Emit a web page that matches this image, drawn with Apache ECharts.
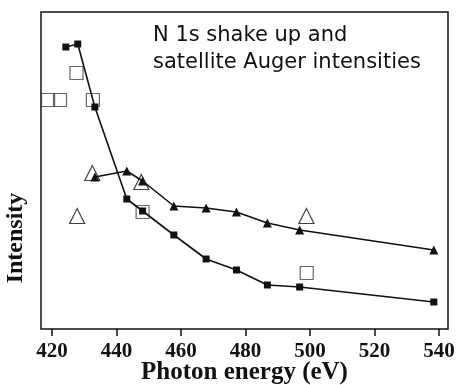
<!DOCTYPE html>
<html>
<head>
<meta charset="utf-8">
<script src="https://cdn.jsdelivr.net/npm/echarts@6/dist/echarts.min.js"></script>
<style>
  html, body { margin: 0; padding: 0; background: #fff; }
  #chart { width: 459px; height: 385px; }
</style>
</head>
<body>
<div id="chart"></div>
<script>
// photon energy (eV) / intensity (arb. units)
var sqX = [424.3, 428.0, 433.3, 443.2, 448.1, 457.8, 467.8, 477.2, 486.8, 496.8, 538.4];
var sqY = [282, 285, 222, 130, 118, 94, 70, 59, 44, 42, 27];
var triX = [433.3, 443.2, 448.1, 457.8, 467.8, 477.2, 486.8, 496.8, 538.4];
var triY = [152, 158, 148, 123, 121, 117, 106, 99, 79];
// open symbols (not joined)
var openSqX = [418.8, 422.5, 427.6, 432.7, 448.1, 499.0];
var openSqY = [229, 229, 256, 229, 117, 56];
var openTriX = [427.8, 432.5, 447.7, 498.9];
var openTriY = [113, 156, 147, 113];
var xTicks = [420, 440, 460, 480, 500, 520, 540];

function pairs(xs, ys){
    var out = [];
    for(var i=0; i<xs.length; i++){
        out.push([xs[i], ys[i]]);
    }
    return out;
}

var serif = '"Liberation Serif", "DejaVu Serif", serif';
var sans = '21px "DejaVu Sans", sans-serif';
var chart = echarts.init(document.getElementById('chart'));
var option = {
    animation: false,
    backgroundColor: '#fff',
    grid: {
        left: 41, right: 11, top: 12, bottom: 56,
        outerBoundsMode: 'none',
        containLabel: false,
        show: true, borderColor: '#111', borderWidth: 1.5, backgroundColor: 'transparent'
    },
    xAxis: {
        type: 'value',
        min: 416.6,
        max: 542.8,
        splitLine: {show: false},
        axisLine: {show: false},
        axisTick: {show: true, inside: false, length: 7, customValues: xTicks,
                   lineStyle: {color: '#111', width: 1.5}},
        axisLabel: {customValues: xTicks, margin: 12, color: '#111',
                    fontFamily: serif, fontWeight: 'bold', fontSize: 21},
        name: 'Photon energy (eV)',
        nameLocation: 'middle',
        nameGap: 31,
        nameMoveOverlap: false,
        nameTextStyle: {color: '#111', fontFamily: serif, fontWeight: 'bold', fontSize: 25}
    },
    yAxis: {
        type: 'value',
        min: 0,
        max: 317,
        show: false
    },
    graphic: [{
        type: 'text',
        left: 153, top: 25,
        style: {text: 'N 1s shake up and', fill: '#111', font: sans}
    },{
        type: 'text',
        left: 153, top: 52,
        style: {text: 'satellite Auger intensities', fill: '#111', font: sans}
    },{
        type: 'text',
        x: 28, y: 238,
        rotation: Math.PI/2,
        style: {text: 'Intensity', fill: '#111', align: 'center', verticalAlign: 'bottom',
                font: 'bold 24px "Liberation Serif", serif'}
    }],
    series: [{
        type: 'line',
        data: pairs(sqX, sqY),
        symbol: 'rect',
        symbolSize: 7,
        lineStyle: {color: '#111', width: 1.6},
        itemStyle: {color: '#111'}
    },{
        type: 'line',
        data: pairs(triX, triY),
        symbol: 'triangle',
        symbolSize: 9,
        lineStyle: {color: '#111', width: 1.6},
        itemStyle: {color: '#111'}
    },{
        type: 'scatter',
        data: pairs(openSqX, openSqY),
        symbol: 'rect',
        symbolSize: 13,
        itemStyle: {color: 'transparent', borderColor: '#444', borderWidth: 1.2}
    },{
        type: 'scatter',
        data: pairs(openTriX, openTriY),
        symbol: 'triangle',
        symbolSize: 15,
        itemStyle: {color: 'transparent', borderColor: '#111', borderWidth: 1.2}
    }]
};
chart.setOption(option);
</script>
</body>
</html>
